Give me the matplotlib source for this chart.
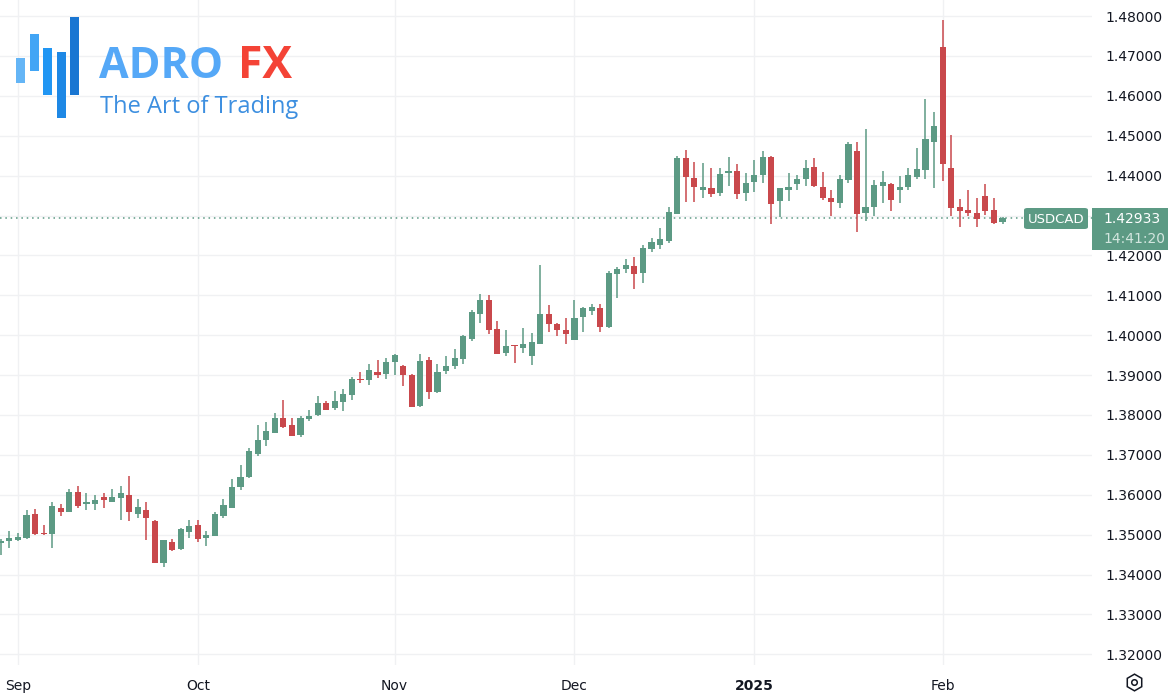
import matplotlib
matplotlib.use("Agg")
import matplotlib.pyplot as plt
from matplotlib.patches import FancyBboxPatch, Rectangle
import numpy as np

# ---------------- data (USDCAD daily, 29 Aug 2024 - 12 Feb 2025) ----------------
opens = [1.3479, 1.3483, 1.3487, 1.3491, 1.3553, 1.3505, 1.3503, 1.3567, 1.3558, 1.3608,
         1.3578, 1.3578, 1.3594, 1.3583, 1.3593, 1.3600, 1.3553, 1.3562, 1.3535, 1.3430,
         1.3481, 1.3463, 1.3506, 1.3525, 1.3492, 1.3497, 1.3548, 1.3567, 1.3620, 1.3644,
         1.3703, 1.3737, 1.3756, 1.3793, 1.3775, 1.3750, 1.3789, 1.3799, 1.3830, 1.3817,
         1.3833, 1.3851, 1.3890, 1.3887, 1.3909, 1.3903, 1.3932, 1.3922, 1.3900, 1.3822,
         1.3937, 1.3857, 1.3910, 1.3923, 1.3940, 1.3990, 1.4053, 1.4087, 1.4015, 1.3955,
         1.3974, 1.3968, 1.3948, 1.3979, 1.4053, 1.4028, 1.4013, 1.3988, 1.4046, 1.4061,
         1.4068, 1.4020, 1.4153, 1.4167, 1.4173, 1.4155, 1.4217, 1.4227, 1.4236, 1.4305,
         1.4444, 1.4393, 1.4365, 1.4368, 1.4357, 1.4406, 1.4412, 1.4356, 1.4383, 1.4402,
         1.4447, 1.4337, 1.4364, 1.4378, 1.4392, 1.4422, 1.4371, 1.4344, 1.4331, 1.4389,
         1.4462, 1.4307, 1.4322, 1.4374, 1.4380, 1.4365, 1.4372, 1.4396, 1.4415, 1.4485,
         1.4722, 1.4420, 1.4321, 1.4314, 1.4306, 1.4350, 1.4314, 1.4283]
highs = [1.3490, 1.3510, 1.3504, 1.3562, 1.3565, 1.3524, 1.3582, 1.3577, 1.3614, 1.3622,
         1.3604, 1.3599, 1.3605, 1.3615, 1.3622, 1.3647, 1.3589, 1.3582, 1.3537, 1.3487,
         1.3489, 1.3517, 1.3537, 1.3538, 1.3510, 1.3558, 1.3589, 1.3639, 1.3675, 1.3717,
         1.3775, 1.3782, 1.3804, 1.3837, 1.3792, 1.3797, 1.3813, 1.3847, 1.3836, 1.3860,
         1.3865, 1.3896, 1.3907, 1.3927, 1.3937, 1.3942, 1.3954, 1.3925, 1.3904, 1.3954,
         1.3946, 1.3927, 1.3948, 1.3965, 1.4000, 1.4062, 1.4103, 1.4100, 1.4035, 1.4012,
         1.3975, 1.4017, 1.4005, 1.4175, 1.4075, 1.4031, 1.4042, 1.4088, 1.4071, 1.4079,
         1.4078, 1.4161, 1.4171, 1.4192, 1.4196, 1.4226, 1.4243, 1.4268, 1.4321, 1.4448,
         1.4464, 1.4433, 1.4431, 1.4418, 1.4418, 1.4447, 1.4429, 1.4406, 1.4439, 1.4462,
         1.4449, 1.4368, 1.4406, 1.4401, 1.4439, 1.4445, 1.4408, 1.4364, 1.4401, 1.4483,
         1.4483, 1.4517, 1.4389, 1.4411, 1.4381, 1.4399, 1.4418, 1.4470, 1.4592, 1.4559,
         1.4790, 1.4501, 1.4341, 1.4364, 1.4345, 1.4379, 1.4343, 1.4297]
lows = [1.3450, 1.3467, 1.3483, 1.3490, 1.3500, 1.3500, 1.3466, 1.3546, 1.3556, 1.3566,
        1.3563, 1.3563, 1.3567, 1.3581, 1.3538, 1.3534, 1.3541, 1.3487, 1.3428, 1.3420,
        1.3458, 1.3462, 1.3491, 1.3481, 1.3472, 1.3496, 1.3543, 1.3567, 1.3611, 1.3642,
        1.3696, 1.3723, 1.3754, 1.3768, 1.3747, 1.3746, 1.3784, 1.3797, 1.3812, 1.3812,
        1.3810, 1.3837, 1.3881, 1.3875, 1.3893, 1.3889, 1.3901, 1.3873, 1.3820, 1.3821,
        1.3840, 1.3856, 1.3903, 1.3915, 1.3928, 1.3986, 1.4031, 1.4003, 1.3953, 1.3948,
        1.3931, 1.3956, 1.3926, 1.3979, 1.4007, 1.3998, 1.3978, 1.3988, 1.4008, 1.4050,
        1.4008, 1.4017, 1.4092, 1.4156, 1.4117, 1.4130, 1.4208, 1.4217, 1.4230, 1.4303,
        1.4335, 1.4335, 1.4345, 1.4347, 1.4350, 1.4374, 1.4341, 1.4337, 1.4360, 1.4382,
        1.4278, 1.4297, 1.4337, 1.4364, 1.4374, 1.4372, 1.4340, 1.4300, 1.4320, 1.4381,
        1.4259, 1.4287, 1.4300, 1.4332, 1.4312, 1.4332, 1.4364, 1.4391, 1.4391, 1.4368,
        1.4387, 1.4300, 1.4270, 1.4300, 1.4272, 1.4302, 1.4278, 1.4279]
closes = [1.3483, 1.3492, 1.3495, 1.3550, 1.3502, 1.3501, 1.3572, 1.3558, 1.3608, 1.3573,
          1.3581, 1.3586, 1.3586, 1.3595, 1.3604, 1.3556, 1.3570, 1.3541, 1.3429, 1.3486,
          1.3462, 1.3515, 1.3523, 1.3488, 1.3500, 1.3553, 1.3575, 1.3619, 1.3645, 1.3710,
          1.3737, 1.3761, 1.3793, 1.3771, 1.3748, 1.3793, 1.3797, 1.3830, 1.3812, 1.3834,
          1.3852, 1.3890, 1.3888, 1.3912, 1.3899, 1.3932, 1.3950, 1.3899, 1.3821, 1.3935,
          1.3857, 1.3908, 1.3923, 1.3942, 1.3998, 1.4058, 1.4087, 1.4012, 1.3953, 1.3973,
          1.3972, 1.3977, 1.3983, 1.4053, 1.4028, 1.4013, 1.4003, 1.4044, 1.4067, 1.4070,
          1.4021, 1.4157, 1.4167, 1.4177, 1.4154, 1.4219, 1.4234, 1.4240, 1.4308, 1.4444,
          1.4397, 1.4372, 1.4371, 1.4354, 1.4403, 1.4412, 1.4353, 1.4381, 1.4402, 1.4447,
          1.4330, 1.4368, 1.4372, 1.4391, 1.4420, 1.4374, 1.4345, 1.4335, 1.4391, 1.4478,
          1.4305, 1.4321, 1.4376, 1.4383, 1.4340, 1.4371, 1.4401, 1.4417, 1.4491, 1.4524,
          1.4428, 1.4320, 1.4312, 1.4306, 1.4290, 1.4312, 1.4282, 1.42933]

month_tick_idx = [2, 23, 46, 67, 88, 110]
month_labels = ["Sep", "Oct", "Nov", "Dec", "2025", "Feb"]
price_ticks = [1.32, 1.33, 1.34, 1.35, 1.36, 1.37, 1.38, 1.39, 1.40,
               1.41, 1.42, 1.43, 1.44, 1.45, 1.46, 1.47, 1.48]
symbol = "USDCAD"
last_price = 1.42933
countdown = "14:41:20"

# ---------------- styling ----------------
UP = "#5c9a84"
DOWN = "#c9484c"
GRID = "#f0f1f3"
TXT = "#131722"
W, H = 1170, 696

fig = plt.figure(figsize=(W / 100, H / 100), dpi=100)
fig.patch.set_facecolor("white")

plot_right = 1092
plot_bottom = 665
ax = fig.add_axes([0, (H - plot_bottom) / H, plot_right / W, plot_bottom / H])
ax.set_facecolor("white")

o = np.array(opens); h = np.array(highs); l = np.array(lows); c = np.array(closes)
x = np.arange(len(o))
up = c >= o
colors = np.where(up, UP, DOWN)

ax.vlines(x, l, h, colors=colors, linewidth=1.1, zorder=3)
body_bottom = np.minimum(o, c)
body_h = np.maximum(np.abs(c - o), 0.00022)
ax.bar(x, body_h, bottom=body_bottom, width=0.72, color=colors, linewidth=0, zorder=4)

# axes limits (pixel calibrated)
ax.set_xlim(-0.10, 127.45)
ax.set_ylim(1.48 - (plot_bottom - 16) / 3990, 1.48 + 16 / 3990)

# grid
for p in price_ticks:
    ax.axhline(p, color=GRID, linewidth=1, zorder=0)
for m in month_tick_idx:
    ax.axvline(m, color=GRID, linewidth=1, zorder=0)

# last price dotted line
ax.axhline(last_price, color=UP, linewidth=1.1, linestyle=(0, (1, 2.5)), zorder=2)

for s in ax.spines.values():
    s.set_visible(False)

ax.yaxis.tick_right()
ax.set_yticks(price_ticks)
# the 1.43000 label is hidden behind the last-price marker in the reference
ax.set_yticklabels(["" if abs(p - 1.43) < 1e-9 else f"{p:.5f}" for p in price_ticks])
ax.tick_params(axis="y", length=0, pad=10, labelsize=10, labelcolor=TXT)
ax.set_xticks(month_tick_idx)
ax.set_xticklabels(month_labels)
ax.tick_params(axis="x", length=0, pad=10, labelsize=10, labelcolor=TXT)
for lab in ax.get_xticklabels():
    if lab.get_text() == "2025":
        lab.set_fontweight("bold")

# ---------------- price / symbol labels ----------------
def fx(px):
    return px / W

def fy(py):
    return 1 - py / H

sym_box = FancyBboxPatch((fx(1024), fy(229)), fx(1088) - fx(1024), fy(208) - fy(229),
                         boxstyle="round,pad=0,rounding_size=0.003",
                         transform=fig.transFigure, facecolor=UP, edgecolor="none", zorder=10)
fig.add_artist(sym_box)
fig.text(fx(1056), fy(219), symbol, color="white", fontsize=9.5,
         ha="center", va="center", zorder=11)

price_box = Rectangle((fx(1092), fy(250)), fx(1168) - fx(1092), fy(208) - fy(250),
                      transform=fig.transFigure, facecolor=UP, edgecolor="none", zorder=10)
fig.add_artist(price_box)
fig.text(fx(1103), fy(219), f"{last_price:.5f}", color="white", fontsize=10,
         ha="left", va="center", zorder=11)
fig.text(fx(1103), fy(239), countdown, color="#d3e6df", fontsize=10,
         ha="left", va="center", zorder=11)

# settings icon
fig.add_artist(plt.Line2D([fx(1134)], [fy(682)], marker="h", markersize=12,
                          markerfacecolor="none", markeredgecolor=TXT, markeredgewidth=1.1,
                          transform=fig.transFigure))
fig.add_artist(plt.Line2D([fx(1134)], [fy(682)], marker="o", markersize=4,
                          markerfacecolor="none", markeredgecolor=TXT, markeredgewidth=1.1,
                          transform=fig.transFigure))

# ---------------- logo ----------------
logo_bars = [(16, 25, 58, 83, "#64b5f6"), (30, 39, 34, 71, "#42a5f5"),
             (43, 52, 48, 95, "#2196f3"), (57, 66, 52, 118, "#1e88e5"),
             (70, 79, 17, 95, "#1976d2")]
for x0, x1, y0, y1, col in logo_bars:
    fig.add_artist(Rectangle((fx(x0), fy(y1)), fx(x1) - fx(x0), fy(y0) - fy(y1),
                             transform=fig.transFigure, facecolor=col, edgecolor="none",
                             zorder=12))
fig.text(fx(99), fy(78), "ADRO", color="#55a8f7", fontsize=31, fontweight="bold",
         family="Open Sans", ha="left", va="baseline", zorder=12)
fig.text(fx(238), fy(78), "FX", color="#f44336", fontsize=32, fontweight="bold",
         family="Open Sans", ha="left", va="baseline", zorder=12)
fig.text(fx(100), fy(113), "The Art of Trading", color="#3d8fe0", fontsize=17,
         family="Open Sans", ha="left", va="baseline", zorder=12)

fig.savefig("out.png", dpi=100, facecolor="white")
